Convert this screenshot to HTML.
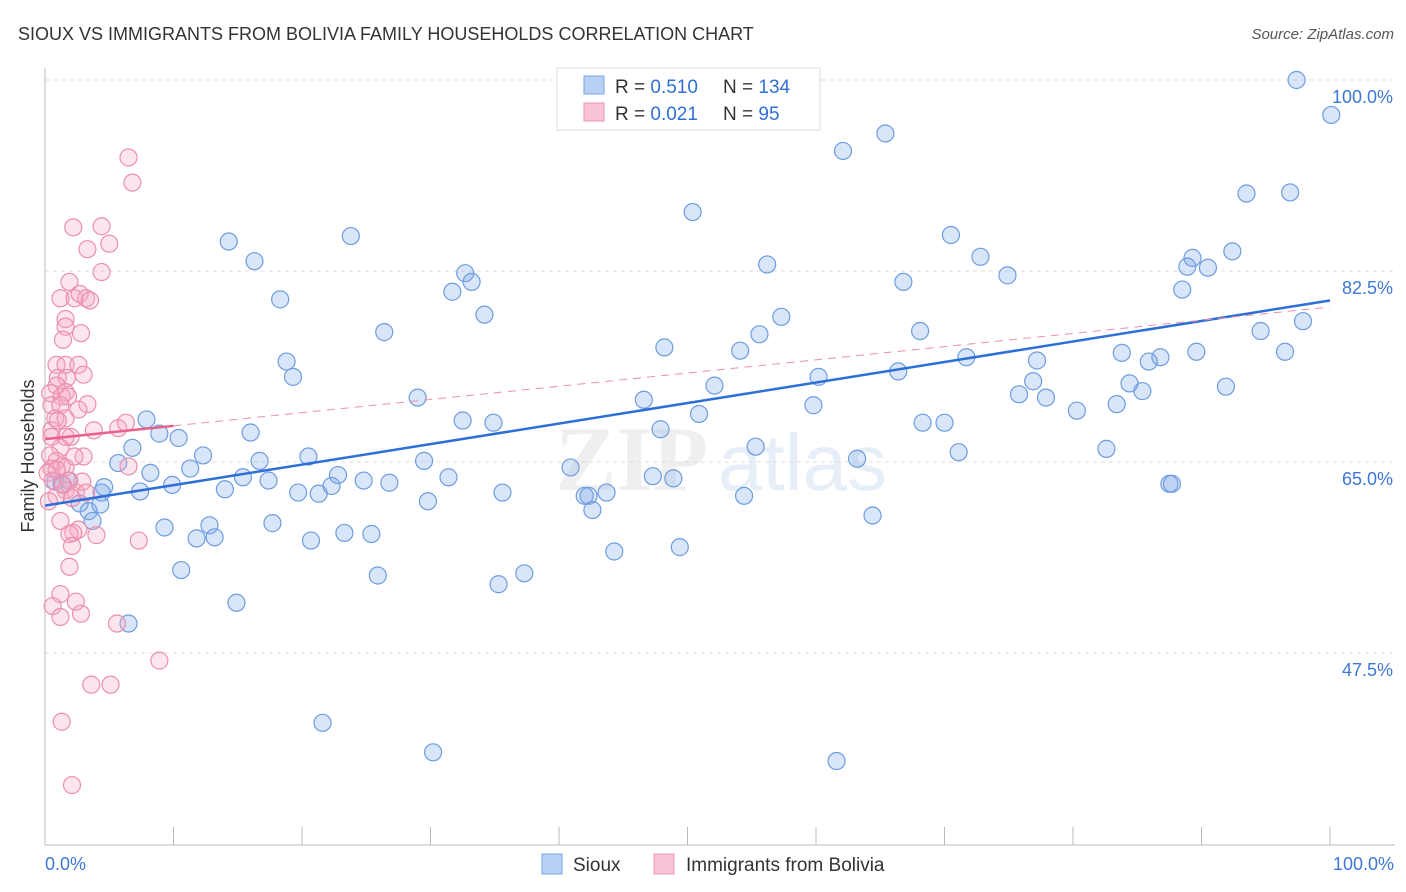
<!DOCTYPE html>
<html><head><meta charset="utf-8"><style>
body{margin:0;background:#fff;font-family:"Liberation Sans",sans-serif;}
svg{display:block}
</style></head><body>
<svg width="1406" height="892" xmlns="http://www.w3.org/2000/svg">
<text x="18" y="40" font-size="18" fill="#333">SIOUX VS IMMIGRANTS FROM BOLIVIA FAMILY HOUSEHOLDS CORRELATION CHART</text>
<text x="1394" y="39" font-size="15" fill="#555" font-style="italic" text-anchor="end">Source: ZipAtlas.com</text>
<text x="34" y="456" font-size="18" fill="#333" text-anchor="middle" transform="rotate(-90 34 456)">Family Households</text>
<g opacity="0.13">
<text x="555" y="490" font-size="92" font-family="Liberation Serif,serif" font-weight="bold" fill="#888">ZIP</text>
<text x="718" y="490" font-size="80" fill="#4a7fd0">atlas</text>
</g>
<g id="grid"></g>
<g id="axes"></g>
<g id="pts"></g>
<g id="trend"></g>
<g>
<rect x="557" y="68" width="263" height="62" fill="#fff" stroke="#ddd"/>
<rect x="584" y="76" width="20" height="18" fill="#b8d0f3" stroke="#7aa6e3"/>
<rect x="584" y="103" width="20" height="18" fill="#f8c3d3" stroke="#ee94b1"/>
<text x="615" y="93" font-size="19" fill="#333">R = <tspan fill="#2f6fd6">0.510</tspan></text>
<text x="723" y="93" font-size="19" fill="#333">N = <tspan fill="#2f6fd6">134</tspan></text>
<text x="615" y="120" font-size="19" fill="#333">R = <tspan fill="#2f6fd6">0.021</tspan></text>
<text x="723" y="120" font-size="19" fill="#333">N = <tspan fill="#2f6fd6">  95</tspan></text>
</g>
<g>
<rect x="542" y="854" width="20" height="20" fill="#b8d0f3" stroke="#7aa6e3"/>
<text x="573" y="871" font-size="19" fill="#333">Sioux</text>
<rect x="654" y="854" width="20" height="20" fill="#f8c3d3" stroke="#ee94b1"/>
<text x="686" y="871" font-size="19" fill="#333">Immigrants from Bolivia</text>
</g>
</svg>
<script>
const yTicks=[100,82.5,65,47.5];
const yTickLabels=["100.0%","82.5%","65.0%","47.5%"];
const xLabels=["0.0%","100.0%"];
const siouxX=[97.4,100.1,65.4,62.1,93.5,96.9,50.4,14.3,23.8,70.5,16.3,72.8,89.3,92.4,56.2,88.9,90.5,74.9,32.7,33.2,66.8,31.7,88.5,18.3,34.2,57.3,97.9,26.4,68.1,94.6,55.6,48.2,54.1,83.8,89.6,96.5,18.8,71.7,86.8,77.2,85.9,19.3,60.2,66.4,76.9,84.4,85.4,91.9,52.1,29.0,75.8,77.9,46.6,59.8,83.4,80.3,7.9,32.5,50.9,34.9,68.3,70.0,8.9,10.4,16.0,47.9,82.6,6.8,12.3,20.5,55.3,71.1,16.7,29.5,63.2,5.7,11.3,40.9,8.2,15.4,17.4,22.8,24.8,26.8,31.4,47.3,48.9,87.5,87.7,9.9,4.6,7.4,14.0,22.3,0.8,1.8,4.4,19.7,21.3,35.6,43.7,42.0,42.3,54.4,2.7,29.8,42.6,64.4,3.4,3.7,17.7,9.3,12.8,23.3,25.4,11.8,13.2,20.7,44.3,49.4,10.6,25.9,37.3,35.3,14.9,6.5,21.6,30.2,61.6,1.3,4.3,43.2];
const siouxY=[100.0,96.8,95.1,93.5,89.6,89.7,87.9,85.2,85.7,85.8,83.4,83.8,83.7,84.3,83.1,82.9,82.8,82.1,82.3,81.5,81.5,80.6,80.8,79.9,78.5,78.3,77.9,76.9,77.0,77.0,76.7,75.5,75.2,75.0,75.1,75.1,74.2,74.6,74.6,74.3,74.2,72.8,72.8,73.3,72.4,72.2,71.5,71.9,72.0,70.9,71.2,70.9,70.7,70.2,70.3,69.7,68.9,68.8,69.4,68.6,68.6,68.6,67.6,67.2,67.7,68.0,66.2,66.3,65.6,65.5,66.4,65.9,65.1,65.1,65.3,64.9,64.4,64.5,64.0,63.6,63.3,63.8,63.3,63.1,63.6,63.7,63.5,63.0,63.0,62.9,62.7,62.3,62.5,62.8,63.2,63.3,62.2,62.2,62.1,62.2,62.2,61.9,61.9,61.9,61.2,61.4,60.6,60.1,60.5,59.6,59.4,59.0,59.2,58.5,58.4,58.0,58.1,57.8,56.8,57.2,55.1,54.6,54.8,53.8,52.1,50.2,41.1,38.4,37.6,63.0,61.1,100.0];
const boliviaX=[6.5,6.8,2.2,4.4,3.3,5.0,4.4,1.9,1.2,2.3,2.7,3.2,1.6,1.6,2.8,1.4,0.9,1.6,2.6,3.0,1.0,1.7,0.9,1.6,0.4,1.3,1.8,3.3,2.6,0.5,1.2,0.8,1.6,3.8,5.7,6.3,0.5,2.0,1.6,0.5,1.2,0.4,0.9,3.0,1.3,6.5,0.5,1.6,0.2,1.9,0.6,2.9,1.6,2.4,0.9,0.3,2.1,3.2,1.2,2.6,2.2,4.0,1.9,7.3,2.1,1.9,1.2,2.4,0.6,1.2,2.8,5.6,8.9,3.6,5.1,1.3,2.1,0.9,1.4,2.3,1.0,3.5];
const boliviaY=[92.9,90.6,86.5,86.6,84.5,85.0,82.4,81.5,80.0,80.0,80.4,80.0,78.1,77.4,76.8,76.2,73.9,73.9,73.9,73.0,72.7,72.7,72.0,71.4,71.3,71.0,71.0,70.3,69.8,70.2,70.2,69.0,69.0,67.9,68.1,68.6,67.9,67.3,67.3,67.3,66.3,65.6,65.1,65.5,64.6,64.6,64.4,64.5,64.0,63.3,63.3,63.2,62.4,62.2,61.9,61.4,61.7,62.2,59.6,58.8,58.5,58.3,58.4,57.8,57.3,55.4,52.9,52.2,51.8,50.8,51.1,50.2,46.8,44.6,44.6,41.2,35.4,64.3,62.9,65.5,68.8,79.8];
const siouxTrend=[61.0,79.8];
const boliviaTrend=[67.1,79.2];
const boliviaSolidEnd=10;

const NS="http://www.w3.org/2000/svg";
const sx=v=>45+v*12.85;
const sy=v=>80+(100-v)*10.914;
function mk(tag,attrs,parent){const e=document.createElementNS(NS,tag);for(const k in attrs)e.setAttribute(k,attrs[k]);parent.appendChild(e);return e;}
const grid=document.getElementById('grid'),axes=document.getElementById('axes'),pts=document.getElementById('pts'),tr=document.getElementById('trend');
yTicks.forEach((t,i)=>{
  const l=mk('line',{x1:45,x2:1395,y1:sy(t),y2:sy(t),stroke:'#ddd','stroke-dasharray':'4 4'},grid);
  
  
  const tx=mk('text',{x:1393,y:sy(t)+23,'font-size':18,fill:'#3d78d8','text-anchor':'end'},axes);
  tx.textContent=yTickLabels[i];
  
  
});
const ax=mk('line',{x1:45,x2:45,y1:68,y2:845,stroke:'#bbb'},axes);


const bx=mk('line',{x1:45,x2:1395,y1:845,y2:845,stroke:'#bbb'},axes);


for(let i=0;i<=10;i++){
  const t=mk('line',{x1:sx(i*10),x2:sx(i*10),y1:827,y2:845,stroke:'#bbb'},axes);
  
  
}
[[0,'start',45],[100,'end',1394]].forEach((d,i)=>{
  const t=mk('text',{x:d[2],y:870,'font-size':18,fill:'#3d78d8','text-anchor':d[1]},axes);
  t.textContent=xLabels[i];
  
  
});
siouxX.forEach((x,i)=>{
  const c=mk('circle',{cx:sx(x),cy:sy(siouxY[i]),r:8.5,fill:'rgba(130,170,232,0.3)',stroke:'#6d9de0','stroke-width':1.2},pts);
  
  
});
boliviaX.forEach((x,i)=>{
  const c=mk('circle',{cx:sx(x),cy:sy(boliviaY[i]),r:8.5,fill:'rgba(245,170,195,0.3)',stroke:'#ec8fae','stroke-width':1.2},pts);
  
  
});
const bl=mk('line',{x1:sx(0),y1:sy(siouxTrend[0]),x2:sx(100),y2:sy(siouxTrend[1]),stroke:'#2d6fd6','stroke-width':2.5},tr);


const pAt=x=>boliviaTrend[0]+(boliviaTrend[1]-boliviaTrend[0])*x/100;
const pd=mk('line',{x1:sx(boliviaSolidEnd),y1:sy(pAt(boliviaSolidEnd)),x2:sx(100),y2:sy(boliviaTrend[1]),stroke:'#ec8fae','stroke-width':1,'stroke-dasharray':'8 6'},tr);


const ps=mk('line',{x1:sx(0),y1:sy(boliviaTrend[0]),x2:sx(boliviaSolidEnd),y2:sy(pAt(boliviaSolidEnd)),stroke:'#e8608c','stroke-width':2.5},tr);


</script>
</body></html>
